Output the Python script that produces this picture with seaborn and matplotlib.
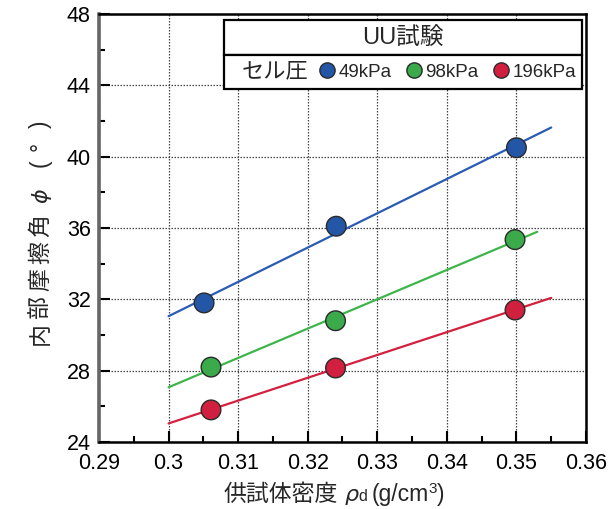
import numpy as np
import pandas as pd
import matplotlib
matplotlib.use("Agg")
import matplotlib.pyplot as plt
from matplotlib.lines import Line2D
from matplotlib.patches import Rectangle
from matplotlib.ticker import MultipleLocator
import seaborn as sns

# Dry density (g/cm3) and internal friction angle (deg) per cell pressure
pressures = ["49kPa", "98kPa", "196kPa"]
density_49 = [0.3051, 0.3241, 0.3500]
phi_49 = [31.8, 36.1, 40.5]
density_98 = [0.3061, 0.3240, 0.3498]
phi_98 = [28.2, 30.8, 35.35]
density_196 = [0.3061, 0.3240, 0.3498]
phi_196 = [25.8, 28.15, 31.4]
# x-range covered by each regression line
fit_range_49 = [0.300, 0.355]
fit_range_98 = [0.300, 0.353]
fit_range_196 = [0.300, 0.355]

colors = {"49kPa": "#2456a8", "98kPa": "#3aaa4a", "196kPa": "#d11f3f"}
line_colors = {"49kPa": "#2a5cb4", "98kPa": "#3db54a", "196kPa": "#d4203f"}

x_ticks = [0.29, 0.30, 0.31, 0.32, 0.33, 0.34, 0.35, 0.36]
x_labels = ["0.29", "0.3", "0.31", "0.32", "0.33", "0.34", "0.35", "0.36"]
y_ticks = [24, 28, 32, 36, 40, 44, 48]

df = pd.DataFrame({
    "density": density_49 + density_98 + density_196,
    "phi": phi_49 + phi_98 + phi_196,
    "pressure": ["49kPa"] * 3 + ["98kPa"] * 3 + ["196kPa"] * 3,
})
ranges = {"49kPa": fit_range_49, "98kPa": fit_range_98, "196kPa": fit_range_196}

sns.set_theme(style="white")
plt.rcParams["font.family"] = ["Liberation Sans", "Noto Sans CJK JP", "DejaVu Sans"]
JP = ["Noto Sans CJK JP", "DejaVu Sans"]
LAT = ["Liberation Sans", "DejaVu Sans"]
GRK = ["DejaVu Sans"]

fig = plt.figure(figsize=(6.08, 5.09), dpi=100)
W, H = 608, 509
ax = fig.add_axes([99 / W, 1 - 442 / H, (586 - 99) / W, (442 - 14) / H])

# least-squares lines for each pressure
for p in pressures:
    sub = df[df["pressure"] == p]
    k, b = np.polyfit(sub["density"], sub["phi"], 1)
    xs = np.array(ranges[p])
    fit = pd.DataFrame({"density": xs, "phi": k * xs + b})
    sns.lineplot(data=fit, x="density", y="phi", ax=ax, color=line_colors[p],
                 lw=1.6, zorder=3)

sns.scatterplot(data=df, x="density", y="phi", hue="pressure", palette=colors,
                hue_order=pressures, s=200, edgecolor="#2a2a2a", linewidth=1.0,
                legend=False, ax=ax, zorder=4)

ax.set_xlim(0.29, 0.36)
ax.set_ylim(24, 48)
ax.set_xticks(x_ticks)
ax.set_xticklabels(x_labels)
ax.set_yticks(y_ticks)
ax.xaxis.set_minor_locator(MultipleLocator(0.005))
ax.yaxis.set_minor_locator(MultipleLocator(2))
ax.tick_params(axis="both", which="major", direction="in", length=8, width=1.5,
               labelsize=15.5, color="black", pad=6, bottom=True, left=True,
               top=False, right=False, labelcolor="black")
ax.tick_params(axis="x", which="major", pad=8)
ax.tick_params(axis="both", which="minor", direction="in", length=4.5, width=1.5,
               bottom=True, left=True, top=False, right=False, color="black")
ax.grid(True, which="major", color="#444444", linestyle=(0, (1.2, 1.2)), lw=0.9)
ax.set_axisbelow(True)
ax.set_xlabel("")
ax.set_ylabel("")

for side in ["top", "right", "bottom"]:
    ax.spines[side].set_color("black")
    ax.spines[side].set_linewidth(1.8)
ax.spines["left"].set_color("#666666")
ax.spines["left"].set_linewidth(2.6)


# axis titles built from pieces so CJK text, italic Greek and superscripts
# can each use their own font
def compose_label(pieces, center_px, base_px, vertical=False):
    renderer = fig.canvas.get_renderer()
    texts, lengths = [], []
    for s, fam, size, style, gap, rise in pieces:
        t = fig.text(0, 0, s, family=fam, fontsize=size, style=style,
                     ha="left", va="baseline", rotation=90 if vertical else 0,
                     rotation_mode="anchor")
        ext = t.get_window_extent(renderer)
        texts.append(t)
        lengths.append((ext.height if vertical else ext.width) + gap)
    total = sum(lengths) - pieces[-1][4]
    pos = center_px - total / 2
    for t, ln, pc in zip(texts, lengths, pieces):
        rise = pc[5]
        if vertical:
            t.set_position(((base_px - rise) / W, pos / H))
        else:
            t.set_position((pos / W, (base_px + rise) / H))
        pos += ln


# x title: baseline 8 px above bottom edge
compose_label([
    ("供試体密度", JP, 16.5, "normal", 7, 0),
    ("ρ", GRK, 16, "italic", 0, 0),
    ("d", LAT, 11.5, "normal", 4, 0),
    ("(g/cm", LAT, 16.5, "normal", 0, 0),
    ("3", LAT, 11, "normal", 0, 8),
    (")", LAT, 16.5, "normal", 0, 0),
], center_px=334, base_px=8)

# y title: reads bottom to top, centred between 117 and 348 px from the top
compose_label([
    ("内", JP, 16.5, "normal", 4, 0),
    ("部", JP, 16.5, "normal", 4, 0),
    ("摩", JP, 16.5, "normal", 4, 0),
    ("擦", JP, 16.5, "normal", 4, 0),
    ("角", JP, 16.5, "normal", 11, 0),
    ("ϕ", GRK, 16, "italic", 22, 0),
    ("(", LAT, 16.5, "normal", 8, 0),
    ("°", LAT, 16.5, "normal", 14, 0),
    (")", LAT, 16.5, "normal", 0, 0),
], center_px=H - 232.5, base_px=47, vertical=True)


# legend table: title row and cell-pressure row
def ax_x(px):
    return (px - 99) / (586 - 99)

def ax_y(py):
    return (442 - py) / (442 - 14)

x0, x1 = ax_x(224), ax_x(582)
ymid, ytop, ybot = ax_y(55), ax_y(20), ax_y(89)
for lo, hi in [(ymid, ytop), (ybot, ymid)]:
    ax.add_patch(Rectangle((x0, lo), x1 - x0, hi - lo, transform=ax.transAxes,
                           facecolor="white", edgecolor="black", lw=1.6,
                           zorder=6, clip_on=False))
ax.text((x0 + x1) / 2, (ymid + ytop) / 2, "UU試験", transform=ax.transAxes,
        ha="center", va="center", fontsize=17, zorder=7)
ax.text(ax_x(242), (ybot + ymid) / 2, "セル圧", transform=ax.transAxes,
        ha="left", va="center", fontsize=16, zorder=7)

handles = [Line2D([], [], ls="none", marker="o", markersize=11,
                  markerfacecolor=colors[p], markeredgecolor="#2a2a2a",
                  markeredgewidth=1.0, label=p) for p in pressures]
leg = ax.legend(handles=handles, ncol=3, loc="center left",
                bbox_to_anchor=(ax_x(318), (ybot + ymid) / 2), frameon=False,
                fontsize=13.5, handlelength=1.0, handletextpad=0.1,
                columnspacing=0.7, borderpad=0, borderaxespad=0)
leg.set_zorder(8)

fig.savefig("out.png", dpi=100)
